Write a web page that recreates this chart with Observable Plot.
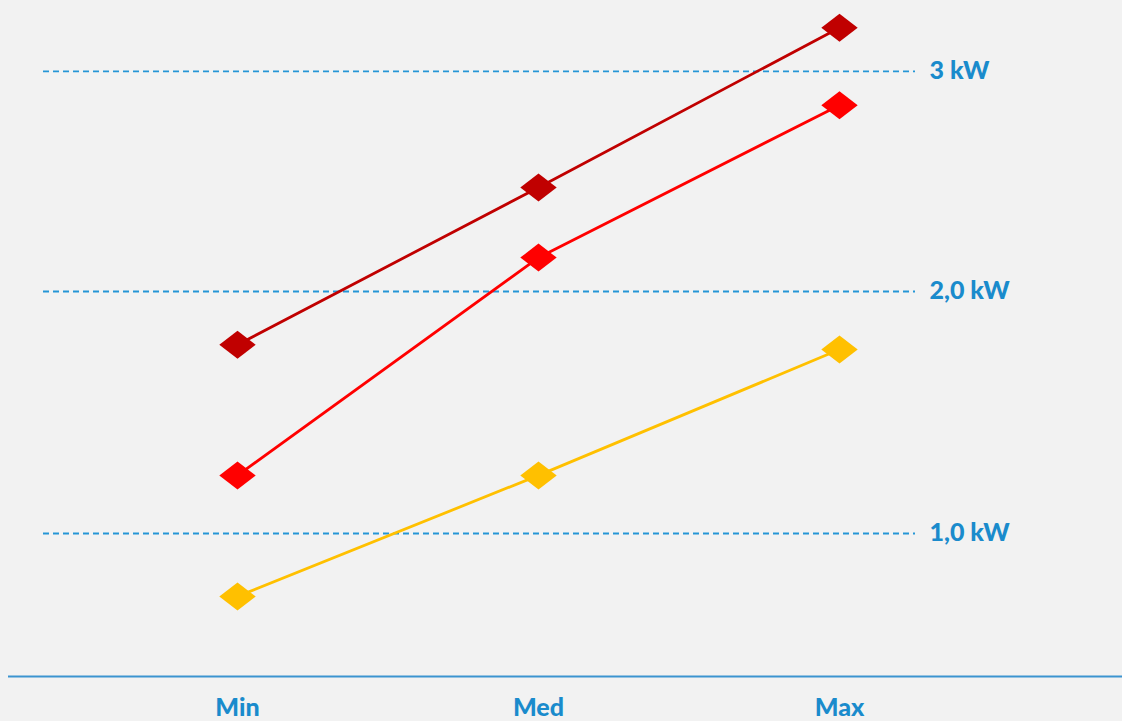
<!DOCTYPE html>
<html>
<head>
<meta charset="utf-8">
<script src="https://cdn.jsdelivr.net/npm/d3@7"></script>
<script src="https://cdn.jsdelivr.net/npm/@observablehq/plot@0.6"></script>
<style>
  html, body { margin: 0; padding: 0; background: #f2f2f2; }
  #chart svg { display: block; background: #f2f2f2; }
</style>
</head>
<body>
<div id="chart"></div>
<script>
// Categories on the x axis
const categories = ["Min", "Med", "Max"];
// Series values (kW)
const seriesNames = ["Serie 1", "Serie 2", "Serie 3"];
const serie1 = [1.78, 2.43, 3.09];
const serie2 = [1.24, 2.14, 2.77];
const serie3 = [0.74, 1.24, 1.76];
// Reference lines
const refValues = [1.0, 2.0, 2.91];
const refLabels = ["1,0 kW", "2,0 kW", "3 kW"];

const seriesColors = ["#c00000", "#ff0000", "#ffc000"];
const allSeries = [serie1, serie2, serie3];

const rows = [];
allSeries.forEach((vals, si) => {
  vals.forEach((v, ci) => rows.push({series: seriesNames[si], cat: categories[ci], value: v}));
});
const refs = refValues.map((v, i) => ({value: v, label: refLabels[i]}));

// wide diamond symbol
const wideDiamond = {
  draw(context, size) {
    const r = Math.sqrt(size / Math.PI);
    const w = r * 1.3;
    context.moveTo(-w, 0);
    context.lineTo(0, -r);
    context.lineTo(w, 0);
    context.lineTo(0, r);
    context.closePath();
  }
};

const blue = "#1a8bcc";
const fontFam = "Lato, 'Open Sans', sans-serif";

const chart = Plot.plot({
  width: 1122,
  height: 721,
  marginTop: 0,
  marginBottom: 45,
  marginLeft: 8,
  marginRight: 0,
  style: {background: "#f2f2f2", fontFamily: fontFam},
  x: {type: "point", domain: categories, range: [237, 839], padding: 0, label: null},
  y: {domain: [0.409, 3.2025], axis: null},
  color: {domain: seriesNames, range: seriesColors},
  marks: [
    Plot.ruleY(refs, {y: "value", stroke: "#2596d6", strokeWidth: 1.8, strokeDasharray: "6,4", insetLeft: 35, insetRight: 207}),
    Plot.text(refs, {y: "value", text: "label", frameAnchor: "left", dx: 921, textAnchor: "start", fill: blue, fontSize: 25, fontWeight: 900}),
    Plot.ruleY([0.409], {stroke: "#3c94d0", strokeWidth: 2}),
    Plot.line(rows, {x: "cat", y: "value", z: "series", stroke: "series", strokeWidth: 2.8}),
    Plot.dot(rows, {x: "cat", y: "value", fill: "series", symbol: wideDiamond, r: 14, stroke: "none"}),
    Plot.axisX({tickSize: 0, tickPadding: 22, fontSize: 25, fontWeight: 900, fill: blue, label: null})
  ]
});
document.getElementById("chart").appendChild(chart);
</script>
</body>
</html>
